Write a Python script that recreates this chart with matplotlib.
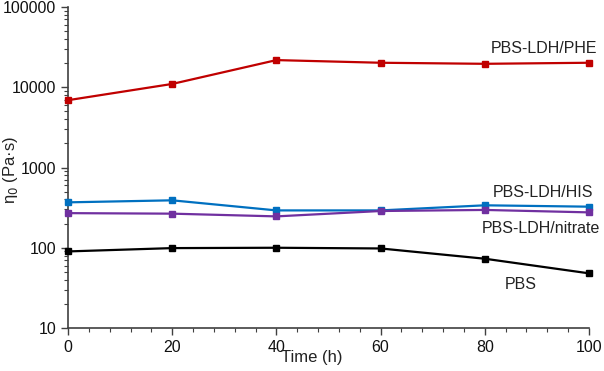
import matplotlib
matplotlib.use("Agg")
import matplotlib.pyplot as plt
from matplotlib.ticker import LogLocator, MultipleLocator, NullFormatter

plt.rcParams['font.family'] = ['Liberation Sans', 'DejaVu Sans']

time_h = [0, 20, 40, 60, 80, 100]
phe = [6900, 11000, 21800, 20200, 19600, 20200]
his = [368, 390, 292, 292, 338, 325]
nitrate = [270, 266, 246, 287, 296, 276]
pbs = [90, 99, 100, 98, 73, 48]

series = [
    (phe, '#C00000', 'PBS-LDH/PHE', (91.3, 30800)),
    (his, '#0070C0', 'PBS-LDH/HIS', (91.2, 490)),
    (nitrate, '#7030A0', 'PBS-LDH/nitrate', (90.8, 174)),
    (pbs, '#000000', 'PBS', (87.0, 34.6)),
]

fig = plt.figure(figsize=(6.04, 3.71), dpi=100)
ax = fig.add_axes([0.1126, 0.1159, 0.8625, 0.8652])

for vals, col, lab, pos in series:
    ax.plot(time_h, vals, color=col, lw=1.6, marker='s', ms=5, mec=col, mfc=col,
            clip_on=False, zorder=3)
    ax.text(pos[0], pos[1], lab, color='#222222', fontsize=11.5, ha='center', va='center')

ax.set_yscale('log')
ax.set_ylim(10, 100000)
ax.set_xlim(0, 100)
ax.xaxis.set_major_locator(MultipleLocator(20))
ax.xaxis.set_minor_locator(MultipleLocator(4))
ax.yaxis.set_major_locator(LogLocator(base=10))
ax.yaxis.set_minor_locator(LogLocator(base=10, subs=range(2, 10)))
ax.yaxis.set_minor_formatter(NullFormatter())
ax.yaxis.set_major_formatter(plt.FuncFormatter(lambda v, p: '%d' % v))

for s in ['top', 'right']:
    ax.spines[s].set_visible(False)
for s in ['left', 'bottom']:
    ax.spines[s].set_color('#404040')
    ax.spines[s].set_linewidth(1.2)

ax.tick_params(which='major', length=5, width=1, color='#404040', labelsize=11.5,
               labelcolor='#111111', direction='out')
ax.tick_params(which='minor', length=3, width=0.8, color='#404040', direction='out')

ax.set_ylabel('η$_0$ (Pa·s)', fontsize=12, color='#222222')
ax.yaxis.set_label_coords(-0.093, 0.492)
ax.set_xlabel('Time (h)', fontsize=12, color='#222222')
ax.xaxis.set_label_coords(0.468, -0.07)

fig.savefig('out.png', dpi=100)
